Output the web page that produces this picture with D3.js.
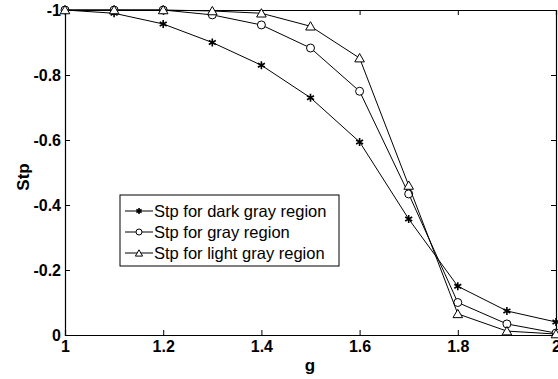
<!DOCTYPE html>
<html lang="en">
<head>
    <meta charset="UTF-8">
    <title>Stp vs g</title>
    <script src="https://d3js.org/d3.v7.min.js"></script>
    <style>
        body { margin: 0; background: #fff; }
        svg { font-family: "Liberation Sans", Arial, sans-serif; }
        .tick text { font-size: 16px; font-weight: bold; fill: #000; }
        .axis-label { font-size: 17px; font-weight: bold; }
        .legend text { font-size: 16.5px; }
    </style>
</head>
<body>
<div id="chart"></div>
<script>
    // data
    const gValues = [1, 1.1, 1.2, 1.3, 1.4, 1.5, 1.6, 1.7, 1.8, 1.9, 2];
    const stpDarkGray = [-1, -0.99, -0.957, -0.90, -0.83, -0.73, -0.594, -0.357, -0.15, -0.074, -0.04];
    const stpGray = [-1, -1, -1, -0.985, -0.954, -0.883, -0.75, -0.434, -0.10, -0.034, -0.006];
    const stpLightGray = [-1, -1, -1, -0.997, -0.99, -0.95, -0.852, -0.46, -0.065, -0.012, -0.003];
    const xTicks = [1, 1.2, 1.4, 1.6, 1.8, 2];
    const yTicks = [0, -0.2, -0.4, -0.6, -0.8, -1];
    const seriesNames = ["Stp for dark gray region", "Stp for gray region", "Stp for light gray region"];

    const W = 558, H = 379;
    const margin = {top: 10, right: 2, bottom: 44, left: 65};
    const width = W - margin.left - margin.right,
          height = H - margin.top - margin.bottom;

    const svgRoot = d3.select("#chart").append("svg")
        .attr("width", W)
        .attr("height", H);
    const svg = svgRoot.append("g")
        .attr("transform", `translate(${margin.left}, ${margin.top})`);

    const x = d3.scaleLinear().domain([1, 2]).range([0, width]);
    const y = d3.scaleLinear().domain([0, -1]).range([height, 0]);

    const fmt = d => d3.format("")(d).replace("\u2212", "-");

    // ticks point inward, mirrored on top/right
    svg.append("g")
        .attr("transform", `translate(0, ${height})`)
        .call(d3.axisBottom(x).tickValues(xTicks).tickSize(-5).tickPadding(6).tickFormat(fmt));
    svg.append("g")
        .call(d3.axisLeft(y).tickValues(yTicks).tickSize(-5).tickPadding(4).tickFormat(fmt));
    svg.append("g")
        .call(d3.axisTop(x).tickValues(xTicks).tickSize(-5).tickFormat(""));
    svg.append("g")
        .attr("transform", `translate(${width}, 0)`)
        .call(d3.axisRight(y).tickValues(yTicks).tickSize(-5).tickFormat(""));

    svg.selectAll(".domain").attr("stroke", "#000").attr("stroke-width", 1.2);
    svg.selectAll(".tick line").attr("stroke", "#000");

    svg.append("text")
        .attr("class", "axis-label")
        .attr("text-anchor", "middle")
        .attr("x", 310 - margin.left)
        .attr("y", 371 - margin.top)
        .text("g");

    svg.append("text")
        .attr("class", "axis-label")
        .attr("transform", "rotate(-90)")
        .attr("x", -(177 - margin.top))
        .attr("y", 29 - margin.left)
        .attr("text-anchor", "middle")
        .text("Stp");

    const series = [
        {name: seriesNames[0], values: stpDarkGray, marker: "star"},
        {name: seriesNames[1], values: stpGray, marker: "circle"},
        {name: seriesNames[2], values: stpLightGray, marker: "triangle"}
    ];

    const line = d3.line()
        .x((d, i) => x(gValues[i]))
        .y(d => y(d));

    function drawMarker(g, type, cx, cy, k) {
        k = k || 1;
        if (type === "circle") {
            g.append("circle").attr("cx", cx).attr("cy", cy).attr("r", 4 * k)
                .attr("fill", "#fff").attr("stroke", "#000").attr("stroke-width", 1);
        } else if (type === "triangle") {
            g.append("path").attr("d", d3.symbol(d3.symbolTriangle, 40 * k * k)())
                .attr("transform", `translate(${cx}, ${cy + 1})`)
                .attr("fill", "#fff").attr("stroke", "#000").attr("stroke-width", 1);
        } else {
            g.append("path").attr("d", d3.symbol(d3.symbolAsterisk, 45 * k * k)())
                .attr("transform", `translate(${cx}, ${cy})`)
                .attr("fill", "none").attr("stroke", "#000").attr("stroke-width", 1.6);
        }
    }

    series.forEach(s => {
        svg.append("path")
            .datum(s.values)
            .attr("fill", "none")
            .attr("stroke", "#000")
            .attr("stroke-width", 1)
            .attr("d", line);
        const mg = svg.append("g");
        s.values.forEach((v, i) => drawMarker(mg, s.marker, x(gValues[i]), y(v)));
    });

    // legend
    const legend = svg.append("g")
        .attr("class", "legend")
        .attr("transform", `translate(${120 - margin.left}, ${195 - margin.top})`);
    legend.append("rect")
        .attr("width", 219).attr("height", 71)
        .attr("fill", "#fff").attr("stroke", "#000").attr("stroke-width", 1);
    series.forEach((s, i) => {
        const ly = 16 + i * 21;
        legend.append("line")
            .attr("x1", 5).attr("x2", 33).attr("y1", ly).attr("y2", ly)
            .attr("stroke", "#000");
        drawMarker(legend, s.marker, 19, ly, 0.75);
        legend.append("text")
            .attr("x", 34).attr("y", ly + 6)
            .text(s.name);
    });
</script>
</body>
</html>
